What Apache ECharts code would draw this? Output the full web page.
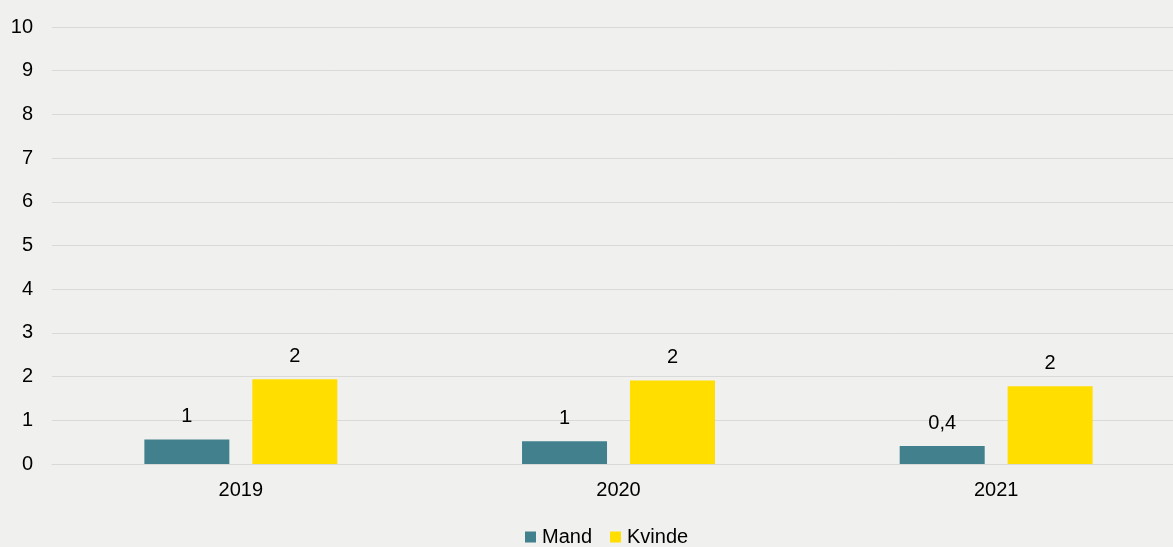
<!DOCTYPE html>
<html>
<head>
<meta charset="utf-8">
<script src="https://cdn.jsdelivr.net/npm/echarts@6/dist/echarts.min.js"></script>
<style>
    html, body {margin: 0; padding: 0; background: #f0f0ef;}
    #chart {width: 1173px; height: 547px;}
</style>
</head>
<body>
<div id="chart"></div>
<script>
const years = ['2019', '2020', '2021'];
const mand = [0.56, 0.52, 0.41];
const kvinde = [1.94, 1.91, 1.78];

function fmt(p) {
    // rounded like the source: whole numbers, one decimal under 0.5
    const v = p.value;
    if (v < 0.5) return v.toFixed(1).replace('.', ',');
    return String(Math.round(v));
}

const chart = echarts.init(document.getElementById('chart'));
const labelStyle = {show: true, position: 'top', distance: 13, formatter: fmt,
    color: '#000', fontSize: 20, fontFamily: 'Liberation Sans, Arial'};

chart.setOption({
    backgroundColor: '#f0f0ef',
    textStyle: {fontFamily: 'Liberation Sans, Arial'},
    grid: {left: 52, top: 27, width: 1133, height: 437, outerBoundsMode: 'none'},
    legend: {
        top: 522, left: 520,
        itemWidth: 11, itemHeight: 11, itemGap: 18,
        icon: 'rect',
        textStyle: {color: '#000', fontSize: 20, padding: [0, 0, 0, 1]},
        data: ['Mand', 'Kvinde']
    },
    xAxis: {
        type: 'category', data: years,
        axisLine: {lineStyle: {color: '#d9d9d9', width: 1}},
        axisTick: {show: false},
        axisLabel: {color: '#000', fontSize: 20, margin: 16}
    },
    yAxis: {
        type: 'value', min: 0, max: 10, interval: 1,
        axisLine: {show: false}, axisTick: {show: false},
        splitLine: {lineStyle: {color: '#d9d9d9', width: 1}},
        axisLabel: {color: '#000', fontSize: 20, margin: 19}
    },
    series: [
        {name: 'Mand', type: 'bar', data: mand, barWidth: 85, barGap: '27%',
            itemStyle: {color: '#41808c'}, label: labelStyle},
        {name: 'Kvinde', type: 'bar', data: kvinde, barWidth: 85,
            itemStyle: {color: '#ffde00'}, label: labelStyle}
    ]
});
</script>
</body>
</html>
